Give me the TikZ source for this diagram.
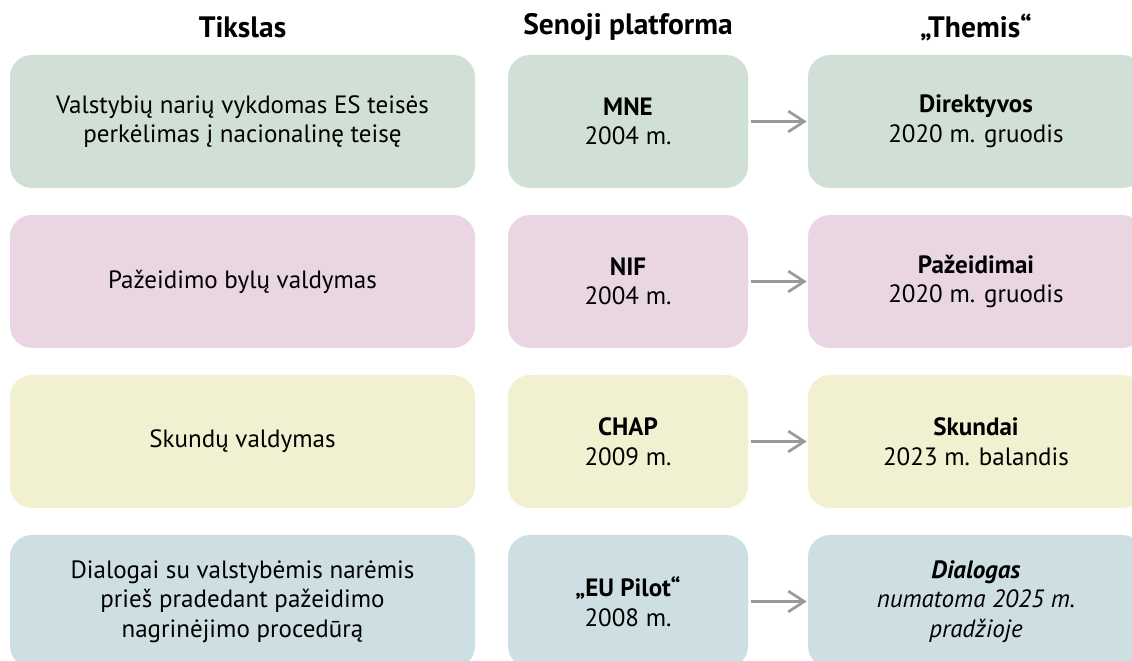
\documentclass[tikz,border=0pt]{standalone}
\usepackage{fontspec}
\setmainfont{PT Sans}
\usetikzlibrary{arrows.meta,positioning}

\definecolor{rowgreen}{HTML}{D0E0D6}
\definecolor{rowpink}{HTML}{EAD6E2}
\definecolor{rowyellow}{HTML}{F1F0D0}
\definecolor{rowblue}{HTML}{CDDFE2}
\definecolor{arrowgray}{HTML}{999999}

\newcommand{\bodyfont}{\fontsize{17.8}{21}\selectfont}
\newcommand{\headfont}{\fontsize{21}{24}\selectfont\bfseries}

\begin{document}
\begin{tikzpicture}[->,>={Straight Barb[length=4mm,width=5.2mm]}, line width=1.9pt, draw=arrowgray, shorten >=0pt, shorten <=1pt]

        \tikzstyle{box}=[rounded corners=0.55cm, minimum height=3.325cm, align=center, font=\bodyfont, inner sep=0pt]
        \tikzstyle{goal}=[box, minimum width=11.625cm]
        \tikzstyle{oldsys}=[box, minimum width=6cm]
        \tikzstyle{themis}=[box, minimum width=8.4cm]
        \tikzstyle{head}=[font=\headfont, inner sep=0pt]

        \clip (0,0) rectangle (28.3,16.525);

        % row 1
        \node[goal, fill=rowgreen]   (g1) at (6.0625,13.4875) {Valstybių narių vykdomas ES teisės\\perkėlimas į nacionalinę teisę};
        \node[oldsys, fill=rowgreen] (o1) [node distance=9.6375cm, right of=g1] {\textbf{MNE}\\2004 m.};
        \node[themis, fill=rowgreen] (t1) [node distance=8.7cm, right of=o1] {\textbf{Direktyvos}\\2020 m. gruodis};

        % headers
        \node[head] (hg) [node distance=2.36cm, above of=g1] {Tikslas};
        \node[head] (ho) [node distance=2.36cm, above of=o1] {Senoji platforma};
        \node[head] (ht) [node distance=2.36cm, above of=t1] {„Themis“};

        % row 2
        \node[goal, fill=rowpink]   (g2) [node distance=4cm, below of=g1] {Pažeidimo bylų valdymas};
        \node[oldsys, fill=rowpink] (o2) [node distance=4cm, below of=o1] {\textbf{NIF}\\2004 m.};
        \node[themis, fill=rowpink] (t2) [node distance=4cm, below of=t1] {\textbf{Pažeidimai}\\2020 m. gruodis};

        % row 3
        \node[goal, fill=rowyellow]   (g3) [node distance=4cm, below of=g2] {Skundų valdymas};
        \node[oldsys, fill=rowyellow] (o3) [node distance=4cm, below of=o2] {\textbf{CHAP}\\2009 m.};
        \node[themis, fill=rowyellow] (t3) [node distance=4cm, below of=t2] {\textbf{Skundai}\\2023 m. balandis};

        % row 4
        \node[goal, fill=rowblue]   (g4) [node distance=4cm, below of=g3] {Dialogai su valstybėmis narėmis\\prieš pradedant pažeidimo\\nagrinėjimo procedūrą};
        \node[oldsys, fill=rowblue] (o4) [node distance=4cm, below of=o3] {\textbf{„EU Pilot“}\\2008 m.};
        \node[themis, fill=rowblue] (t4) [node distance=4cm, below of=t3] {\textbf{\textit{Dialogas}}\\\textit{numatoma 2025 m.}\\\textit{pradžioje}};

        \path
        (o1) edge (t1)
        (o2) edge (t2)
        (o3) edge (t3)
        (o4) edge (t4)
        ;
\end{tikzpicture}
\end{document}
